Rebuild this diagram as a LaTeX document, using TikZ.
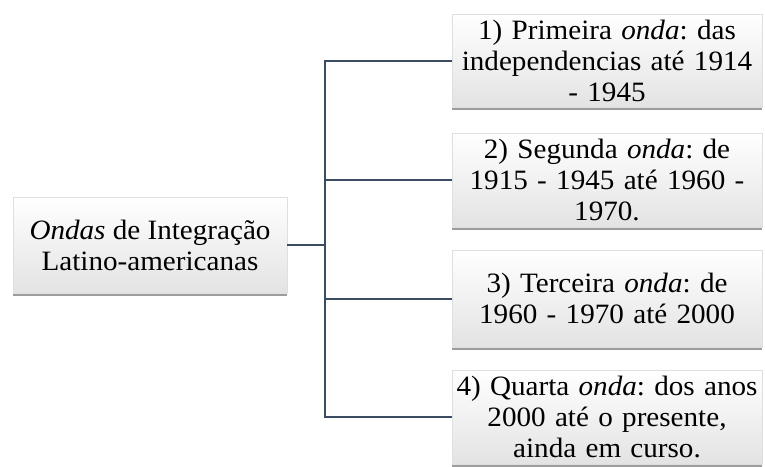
\documentclass[tikz,border=0pt]{standalone}
\usepackage{fontspec}
\setmainfont[FakeStretch=1.04]{Liberation Serif}
\usetikzlibrary{shadows}
\definecolor{linhacor}{RGB}{60,76,96}
\frenchspacing

\begin{document}
\begin{tikzpicture}[x=1pt,y=-1pt]
        \tikzstyle{caixa} = [draw=gray!25,line width=0.6pt,top color=white,bottom color=gray!22,
          drop shadow={shadow xshift=0pt,shadow yshift=-3pt,opacity=0.55,fill=black!70},
          align=center,inner sep=1pt,font=\fontsize{28}{31}\selectfont]
        \tikzstyle{onda} = [caixa,minimum width=310pt,text width=308pt]
        \tikzstyle{linha} = [draw=linhacor,line width=2pt]
        \useasboundingbox (0,0) rectangle (765,466);
        \node[caixa,minimum width=274pt,minimum height=96pt] (ondas) at (150,245)
          {\emph{Ondas} de Integração\\Latino-americanas};
        \node[onda,minimum height=93pt] (o1) at (607,60.5)
          {1) Primeira \emph{onda}: das\\independencias até 1914\\- 1945};
        \node[onda,minimum height=94pt] (o2) at (607,180)
          {2) Segunda \emph{onda}: de\\1915 - 1945 até 1960 -\\1970.};
        \node[onda,minimum height=97pt] (o3) at (607,298.5)
          {3) Terceira \emph{onda}: de\\1960 - 1970 até 2000};
        \node[onda,minimum height=94pt] (o4) at (607,417)
          {4) Quarta \emph{onda}: dos anos\\2000 até o presente,\\ainda em curso.};
        \coordinate (tronco) at (325,245);
        \path[linha] (ondas.east) -- (tronco);
        \path[linha] (o1.west) -- (o1.west -| tronco) -- (o4.west -| tronco) -- (o4.west);
        \foreach \i in {2,3}{
          \path[linha] (o\i.west) -- (o\i.west -| tronco);
        }
      \end{tikzpicture}
\end{document}
